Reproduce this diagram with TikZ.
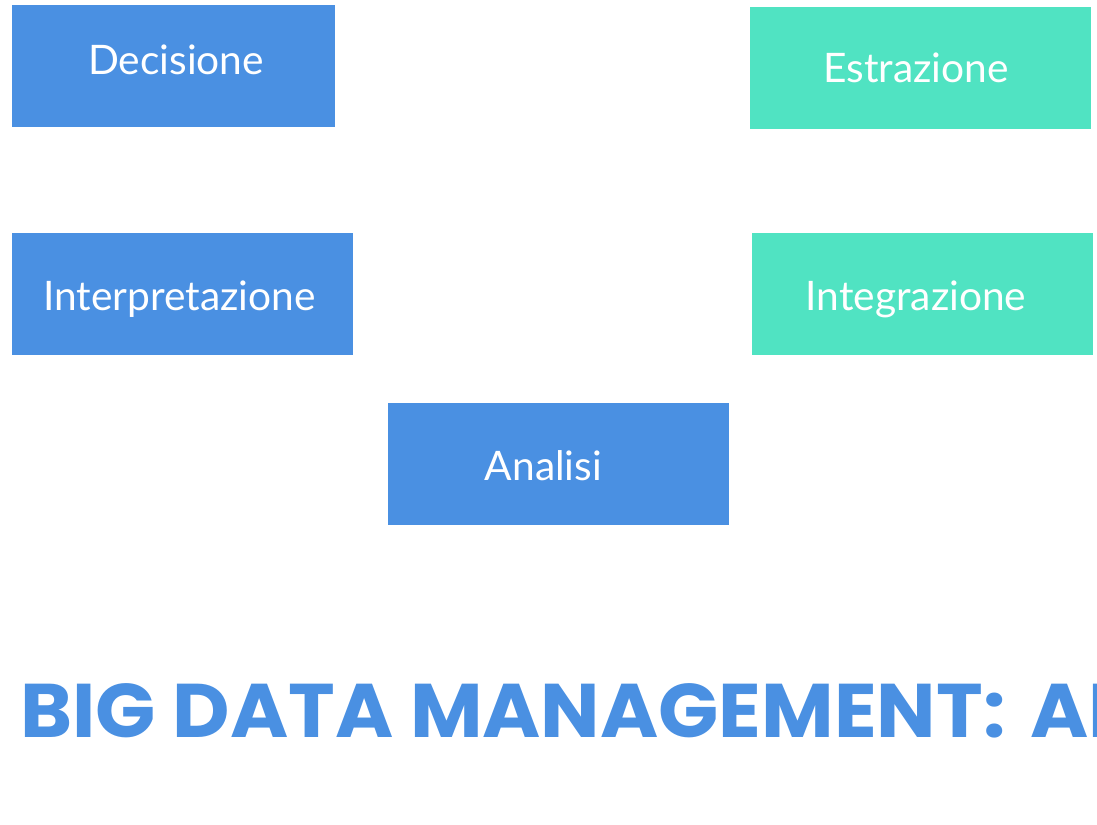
\documentclass[tikz,border=0pt]{standalone}
\usepackage{fontspec}
\setmainfont{Lato}
\newfontfamily\titlefont{Poppins}
\usepackage{tikz}

\definecolor{stepblue}{HTML}{4A90E2}
\definecolor{stepgreen}{HTML}{50E3C2}

\tikzset{
    phase/.style={fill=#1, inner sep=0pt,
        minimum width=255.75pt, minimum height=91.5pt},
    phase/.default=stepblue,
    phasetext/.style={anchor=base, text=white, inner sep=0pt,
        font=\fontsize{30.5}{36}\selectfont},
}

\begin{document}
\begin{tikzpicture}[x=0.75pt, y=-0.75pt]
        \useasboundingbox (0, 0) rectangle (1097, 825);
        \clip (0, 0) rectangle (1097, 825);
        % left column, blue
        \node [phase, minimum width=242.25pt] (decisione) at (173.5, 66) {};
        \node [phasetext] (decisione-t) at (176, 74) {Decisione};
        \node [phase] (interpretazione) at (182.5, 294) {};
        \node [phasetext] (interpretazione-t) at (179.5, 310) {Interpretazione};
        \node [phase] (analisi) at (558.5, 464) {};
        \node [phasetext] (analisi-t) at (543.5, 480) {Analisi};
        % right column, green
        \node [phase=stepgreen] (estrazione) at (920.5, 68) {};
        \node [phasetext] (estrazione-t) at (916, 82) {Estrazione};
        \node [phase=stepgreen] (integrazione) at (922.5, 294) {};
        \node [phasetext] (integrazione-t) at (916, 310) {Integrazione};
        % heading, runs off the right edge
        \node [anchor=base west, inner sep=0pt, text=stepblue, xscale=1.04,
            font=\titlefont\bfseries\fontsize{57}{68}\selectfont]
            (titolo) at (20, 737) {BIG DATA MANAGEMENT:\hspace{6pt} AI};
    \end{tikzpicture}
\end{document}
